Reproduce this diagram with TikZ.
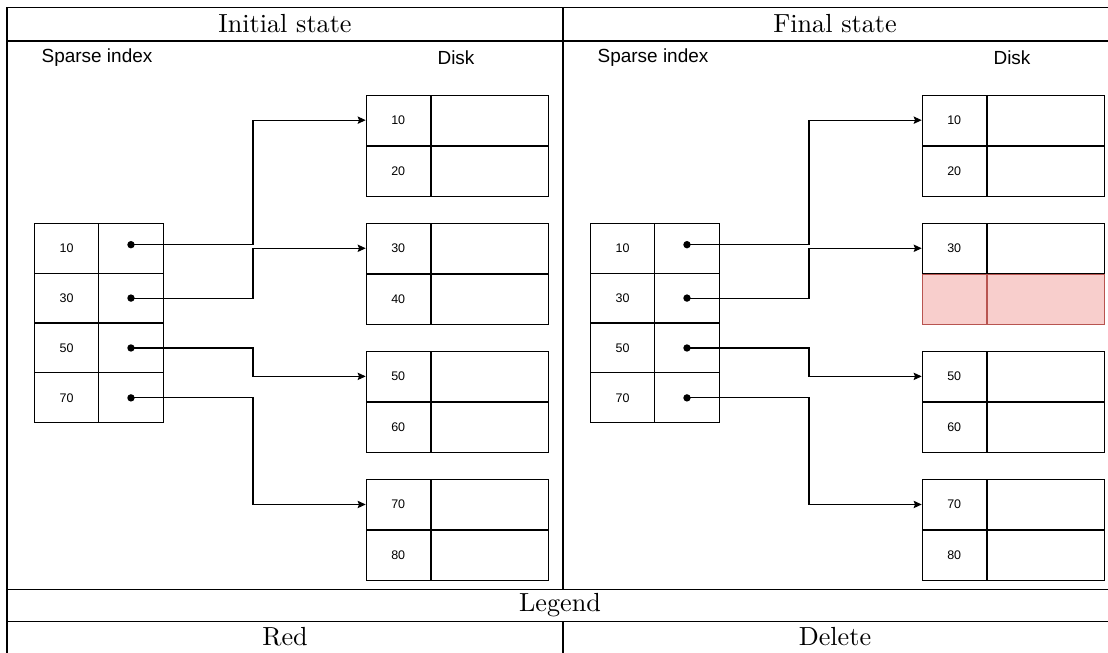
\documentclass[tikz,border=0pt]{standalone}
\usepackage{fontspec}
\newfontfamily\drawiofont{Liberation Sans}
\usetikzlibrary{arrows.meta}
\tikzset{
  cell/.style={draw, line width=0.6pt, inner sep=0pt, anchor=north west,
    minimum height=0.998cm, font=\drawiofont\fontsize{7.1}{8}\selectfont},
  keycell/.style={cell, minimum width=1.286cm},
  ptrcell/.style={cell, minimum width=1.286cm},
  diskkey/.style={cell, minimum width=1.28cm},
  diskval/.style={cell, minimum width=2.352cm},
  gone/.style={fill=delfill, draw=deldraw},
  lbl/.style={font=\drawiofont\fontsize{10.8}{13}\selectfont},
  hdr/.style={scale=1.49, font=\fontsize{10}{12}\selectfont},
  pointer/.style={line width=0.6pt, -{Stealth[length=4.6pt,width=4.2pt,inset=0.8pt]}},
  dot/.style={circle, fill=black, inner sep=0pt, minimum size=4.2pt},
  rule/.style={line width=0.6pt}
}
\definecolor{delfill}{HTML}{F8CECC}
\definecolor{deldraw}{HTML}{B85450}

\begin{document}
\begin{tikzpicture}[x=0.02cm, y=-0.02cm]
    %%%%% FRAME %%%%%
    \useasboundingbox (0,0) rectangle (1108,652);
    \clip (0,0) rectangle (1108,652);

    \draw[rule] (7,7.3) rectangle (1120,670);
    \draw[rule] (7,41) -- (1120,41);
    \draw[rule] (7,589.3) -- (1120,589.3);
    \draw[rule] (7,621.7) -- (1120,621.7);
    \draw[rule] (563,7.3) -- (563,589.3);
    \draw[rule] (563,621.7) -- (563,670);

    \node[hdr] (hinit) at (285,24) {Initial state};
    \node[hdr] (hfinal) at (835,24) {Final state};
    \node[hdr] (hleg) at (560,605.5) {Legend};
    \node[hdr] (hred) at (285,637) {Red};
    \node[hdr] (hdel) at (835,637) {Delete};

    %%%%% PANELS %%%%%
    \foreach \p/\dx in {l/0, r/556} {
      \begin{scope}[xshift=\dx*0.02cm]
        \node[lbl] (\p title) at (97,57.5) {Sparse index};
        \node[lbl] (\p disk) at (456,57.5) {Disk};

        % sparse index
        \foreach \k/\up [count=\i from 0] in {10/0.07,30/0,50/0,70/0} {
          \node[keycell] (\p i\k) at (34,222.7+49.9*\i) {\k};
          \node[ptrcell] (\p p\k) at (98.3,222.7+49.9*\i) {};
          \node[dot] (\p d\k) at ([yshift=\up cm]\p p\k.center) {};
        }

        % disk blocks
        \foreach \a/\b [count=\i from 0] in {10/20,30/40,50/60,70/80} {
          \node[diskkey] (\p k\a) at (365.7,94.7+128.1*\i) {\a};
          \node[diskval] (\p v\a) at (\p k\a.north east) {};
          \node[diskkey] (\p k\b) at (\p k\a.south west) {\b};
          \node[diskval] (\p v\b) at (\p k\b.north east) {};
        }

        \coordinate (\p bend) at (253,0);
      \end{scope}
    }

    % deleted record in the final state
    \node[diskkey, gone] (rk40) at (rk30.south west) {};
    \node[diskval, gone] (rv40) at (rk40.north east) {};

    %%%%% POINTERS %%%%%
    \foreach \p in {l,r} {
      \foreach \k in {10,30,50,70} {
        \draw[pointer] (\p d\k.center) -- (\p d\k.center -| \p bend) |- (\p k\k.west);
      }
    }
\end{tikzpicture}
\end{document}
